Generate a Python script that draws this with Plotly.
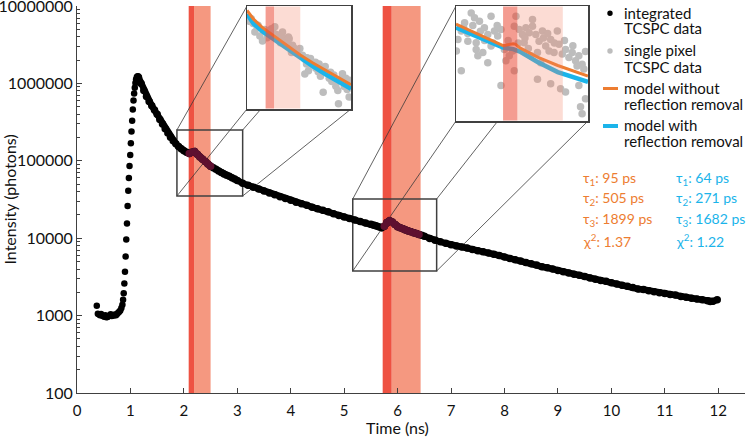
import math
import plotly.graph_objects as go

# ---------------- data: integrated TCSPC histogram ----------------
t_rise = [0.37, 0.39, 0.41, 0.43, 0.45, 0.47, 0.49, 0.51, 0.53, 0.55, 0.57, 0.59, 0.61,
          0.63, 0.65, 0.67, 0.69, 0.71, 0.73, 0.75, 0.77, 0.79, 0.81, 0.83, 0.85,
          0.862, 0.874, 0.886, 0.898, 0.91, 0.922, 0.935, 0.947, 0.959, 0.971, 0.983,
          0.996, 1.008, 1.02, 1.032, 1.044, 1.057, 1.069, 1.081, 1.093, 1.105, 1.118,
          1.13, 1.14]
i_rise = [1340, 1060, 1040, 1010, 1050, 1000, 990, 970, 1010, 950, 960, 980, 1000,
          1040, 990, 1010, 1000, 1030, 1010, 1050, 1090, 1120, 1160, 1250, 1380,
          1600, 1950, 2600, 3700, 5800, 9600, 15500, 26000, 41000, 60000, 86000,
          119000, 169000, 240000, 330000, 460000, 600000, 740000, 880000, 1010000,
          1120000, 1200000, 1230000, 1235000]

t_decay = [1.15, 1.20, 1.25, 1.30, 1.35, 1.40, 1.45, 1.50, 1.55, 1.60, 1.65, 1.70, 1.75,
           1.80, 1.85, 1.90, 1.95, 2.00, 2.05, 2.10, 2.15, 2.20, 2.25, 2.30, 2.35, 2.40,
           2.45, 2.50, 2.55, 2.60, 2.65, 2.70, 2.75, 2.80, 2.85, 2.90, 2.95, 3.00,
           3.1, 3.2, 3.3, 3.4, 3.5, 3.6, 3.7, 3.8, 3.9, 4.0, 4.1, 4.2, 4.3, 4.4, 4.5,
           4.6, 4.7, 4.8, 4.9, 5.0, 5.1, 5.2, 5.3, 5.4, 5.5,
           5.55, 5.60, 5.65, 5.70, 5.75, 5.80, 5.85, 5.90, 5.95, 6.00, 6.05, 6.10,
           6.15, 6.20, 6.25, 6.30, 6.35, 6.40, 6.45, 6.50,
           6.6, 6.7, 6.8, 6.9, 7.0, 7.1, 7.2, 7.3, 7.4, 7.5, 7.6, 7.7, 7.8, 7.9, 8.0,
           8.1, 8.2, 8.3, 8.4, 8.5, 8.6, 8.7, 8.8, 8.9, 9.0, 9.1, 9.2, 9.3, 9.4, 9.5,
           9.6, 9.7, 9.8, 9.9, 10.0, 10.1, 10.2, 10.3, 10.4, 10.5, 10.6, 10.7, 10.8,
           10.9, 11.0, 11.1, 11.2, 11.3, 11.4, 11.5, 11.6, 11.7, 11.8, 11.85, 11.9,
           11.98]
i_decay = [1202000, 1000000, 812800, 676100, 582100, 512900, 451900, 398100, 342800,
           298500, 260000, 229100, 201800, 182000, 166000, 153100, 142900, 134900,
           128800, 124500, 128800, 131800, 121600, 112200, 104700, 97700, 91200, 85100,
           81300, 77600, 74100, 70800, 67600, 65300, 63100, 60300, 58200, 55600,
           51300, 48400, 45700, 43200, 40700, 38500, 36300, 34300, 32700, 30900, 29200,
           27900, 26600, 25100, 24000, 22900, 21900, 20700, 19700, 18800, 18000, 17200,
           16400, 15700, 15100,
           14800, 14500, 14100, 13600, 14300, 15900, 16800, 16200, 15000, 14100, 13600,
           13200, 12800, 12400, 12100, 11800, 11500, 11200, 10900, 10600,
           9900, 9400, 9000, 8600, 8250, 7950, 7700, 7480, 7150, 6900, 6660, 6430, 6200,
           5980, 5700, 5480, 5260, 5060, 4860, 4670, 4490, 4280, 4150, 3990, 3840,
           3700, 3560, 3430, 3310, 3190, 3070, 2960, 2850, 2780, 2650, 2560, 2470, 2390,
           2310, 2210, 2170, 2100, 2040, 1980, 1930, 1870, 1840, 1770, 1720, 1680, 1640,
           1600, 1550, 1520, 1530, 1600]

# reflection bands (ns)
band_dark = [(2.09, 2.19), (5.72, 5.89)]
band_light = [(2.19, 2.50), (5.89, 6.43)]

# zoom regions on the main plot (ns, photons)
zoom_x = [(1.87, 3.10), (5.16, 6.73)]
zoom_y = [(35100, 250000), (3770, 32100)]

# ---------------- inset 1: single pixel data + models ----------------
in1_t = [1.903, 1.943, 1.990, 2.022, 2.069, 2.108, 2.160, 2.199, 2.219, 2.258, 2.290,
         2.329, 2.369, 2.408, 2.436, 2.463, 2.495, 2.526, 2.554, 2.574, 2.597, 2.621,
         2.645, 2.684, 2.712, 2.739, 2.771, 2.795, 2.818, 2.842, 2.873, 2.897, 2.921,
         2.944, 2.952, 2.976, 2.999, 3.019, 3.039, 3.055, 3.070, 3.078, 2.554, 2.396,
         2.053, 1.963, 2.266, 2.858, 2.723,
         2.08, 2.13, 2.18, 2.24, 2.31, 2.35, 2.42, 2.47, 2.58, 2.62, 2.68, 2.75, 2.88,
         2.93, 3.02, 3.08, 1.92, 2.00, 2.36, 2.28]
in1_v = [142, 135, 123, 102, 114, 98.5, 120, 126, 106, 101, 112, 89.5, 96.3, 83.1,
         76.1, 69.6, 77.2, 66.6, 60.9, 54.6, 47.1, 61.8, 53.4, 49.6, 46.0, 41.5, 29.1,
         51.8, 44.7, 39.7, 36.9, 42.8, 33.3, 30.2, 22.5, 39.1, 44.1, 35.8, 39.7, 30.9,
         34.3, 26.1, 43.7, 70.6, 91.5, 112, 88.1, 45.4, 54.6,
         118, 105, 110, 99, 95, 87, 79, 73, 63, 56, 57, 50, 41, 37, 33, 38, 150, 130,
         100, 104]
in1_mt = [1.87, 1.95, 2.05, 2.15, 2.25, 2.35, 2.50, 2.65, 2.80, 2.95, 3.10]
in1_orange = [181, 148, 124, 108, 93.2, 82.5, 66.8, 56.0, 47.4, 40.2, 34.4]
in1_blue = [167, 134, 114, 99.6, 88.1, 78.0, 63.2, 51.9, 43.5, 36.7, 31.5]

# ---------------- inset 2 ----------------
in2_t = [5.341, 5.380, 5.439, 5.262, 5.223, 5.183, 5.164, 5.301, 5.400, 5.498, 5.538,
         5.577, 5.617, 5.656, 5.695, 5.479, 5.420, 5.538, 5.223, 5.400, 5.577, 5.735,
         5.754, 5.794, 5.833, 5.853, 5.695, 5.873, 5.853, 5.912, 5.951, 5.991, 6.030,
         6.070, 6.109, 6.148, 6.188, 6.227, 6.286, 6.267, 6.326, 6.365, 6.385, 6.424,
         6.463, 6.503, 6.542, 6.582, 6.621, 6.660, 6.680, 6.129, 6.286, 6.404, 6.463,
         6.621, 6.641, 6.660, 6.700, 6.070, 5.971, 6.129, 6.168, 6.050,
         5.25, 5.30, 5.36, 5.45, 5.50, 5.60, 5.65, 5.78, 5.90, 5.98, 6.02, 6.20, 6.25,
         6.33, 6.45, 6.55, 6.60, 6.70]
in2_v = [34.6, 31.4, 29.4, 28.4, 24.1, 20.4, 16.2, 19.7, 19.1, 25.7, 22.5, 32.4, 24.1,
         21.8, 24.9, 15.7, 14.7, 12.8, 10.9, 16.7, 17.9, 16.7, 13.3, 14.7, 16.2, 10.9,
         8.1, 32.4, 26.6, 24.9, 22.5, 25.7, 23.3, 26.6, 22.5, 19.7, 24.1, 17.9, 20.4,
         16.2, 15.7, 24.1, 18.5, 15.2, 16.7, 14.2, 15.7, 13.3, 14.7, 12.4, 11.3, 9.2,
         8.4, 7.6, 7.1, 8.1, 5.3, 4.6, 6.2, 30.4, 19.1, 15.7, 12.8, 14.7,
         26, 23, 27, 24, 20, 19, 27, 20, 19, 21, 17, 21, 23, 19, 20, 18, 12, 16]
in2_ot = [5.16, 5.435, 5.72, 5.79, 5.84, 5.87, 5.92, 6.13, 6.37, 6.73]
in2_orange = [27.7, 22.4, 18.0, 18.4, 18.7, 18.5, 17.2, 14.3, 12.1, 9.8]
in2_bt = [5.16, 5.435, 5.72, 5.84, 5.92, 6.13, 6.37, 6.73]
in2_blue = [25.9, 21.1, 17.3, 16.8, 16.0, 13.0, 10.6, 8.7]

fit_without = ["τ<sub>1</sub>: 95 ps", "τ<sub>2</sub>: 505 ps", "τ<sub>3</sub>: 1899 ps", "χ<sup>2</sup>: 1.37"]
fit_with = ["τ<sub>1</sub>: 64 ps", "τ<sub>2</sub>: 271 ps", "τ<sub>3</sub>: 1682 ps", "χ<sup>2</sup>: 1.22"]

legend_labels = [["integrated", "TCSPC data"], ["single pixel", "TCSPC data"],
                 ["model without", "reflection removal"], ["model with", "reflection removal"]]

x_ticks = list(range(0, 13))
y_ticks = [100, 1000, 10000, 100000, 1000000, 10000000]

# ---------------- styling ----------------
FONT = "Lato, 'Open Sans', sans-serif"
ORANGE = "#ED7D31"
BLUE = "#1BB4EA"
GRAY = "#BDBDBD"
MAROON = "#5E1030"
DARK_BAND = "rgb(238,82,66)"
LIGHT_BAND = "rgb(245,152,128)"
DARK_BAND_IN = "rgba(235,75,55,0.55)"
LIGHT_BAND_IN = "rgba(244,130,100,0.28)"
AX = "#404040"

W, H = 750, 440
PL, PR, PT, PB = 77, 745, 6, 393
XMAX = 12.5


def px_x(px):
    return (px - PL) / (PR - PL)


def px_y(py):
    return (PB - py) / (PB - PT)


inset_dom = [
    ((px_x(247), px_x(351)), (px_y(109), 1.0)),
    ((px_x(456), px_x(588)), (px_y(121), 1.0)),
]

fig = go.Figure()

# main black points
fig.add_trace(go.Scatter(x=t_rise, y=i_rise, mode="markers",
                         marker=dict(color="black", size=6.5), showlegend=False,
                         hoverinfo="skip"))
fig.add_trace(go.Scatter(x=t_decay, y=i_decay, mode="lines+markers",
                         line=dict(color="black", width=6.5),
                         marker=dict(color="black", size=7.5), showlegend=False,
                         hoverinfo="skip"))
# points lying inside the reflection bands are highlighted
for (a, _), (_, b) in zip(band_dark, band_light):
    sx = [t for t in t_decay if a <= t <= b]
    sy = [v for t, v in zip(t_decay, i_decay) if a <= t <= b]
    fig.add_trace(go.Scatter(x=sx, y=sy, mode="lines+markers",
                             line=dict(color=MAROON, width=6.5),
                             marker=dict(color=MAROON, size=7.5), showlegend=False,
                             hoverinfo="skip"))

# insets
insets = [
    (in1_t, in1_v, in1_mt, in1_orange, in1_mt, in1_blue),
    (in2_t, in2_v, in2_ot, in2_orange, in2_bt, in2_blue),
]
for k, (gt, gv, ot, ov, bt, bv) in enumerate(insets, start=2):
    xa, ya = f"x{k}", f"y{k}"
    fig.add_trace(go.Scatter(x=gt, y=gv, mode="markers", xaxis=xa, yaxis=ya,
                             marker=dict(color=GRAY, size=7.5), showlegend=False,
                             hoverinfo="skip"))
    fig.add_trace(go.Scatter(x=bt, y=bv, mode="lines", xaxis=xa, yaxis=ya,
                             line=dict(color=BLUE, width=4.5), showlegend=False,
                             hoverinfo="skip"))
    fig.add_trace(go.Scatter(x=ot, y=ov, mode="lines", xaxis=xa, yaxis=ya,
                             line=dict(color=ORANGE, width=3), showlegend=False,
                             hoverinfo="skip"))

shapes = []
# main bands
for (a, b) in band_dark:
    shapes.append(dict(type="rect", xref="x", yref="paper", x0=a, x1=b, y0=0, y1=1,
                       fillcolor=DARK_BAND, line=dict(width=0), layer="below"))
for (a, b) in band_light:
    shapes.append(dict(type="rect", xref="x", yref="paper", x0=a, x1=b, y0=0, y1=1,
                       fillcolor=LIGHT_BAND, line=dict(width=0), layer="below"))

# connectors
for (zx, zy, dom) in zip(zoom_x, zoom_y, inset_dom):
    bx0, bx1 = zx[0] / XMAX, zx[1] / XMAX
    by0 = (math.log10(zy[0]) - 2) / 5
    by1 = (math.log10(zy[1]) - 2) / 5
    (ix0, ix1), (iy0, iy1) = dom
    for (ax_, ay_, cx_, cy_) in [(bx0, by1, ix0, iy1), (bx1, by1, ix1, iy1),
                                 (bx0, by0, ix0, iy0), (bx1, by0, ix1, iy0)]:
        shapes.append(dict(type="line", xref="paper", yref="paper", x0=ax_, y0=ay_,
                           x1=cx_, y1=cy_, line=dict(color="#3a3a3a", width=0.8),
                           layer="below"))
    shapes.append(dict(type="rect", xref="x", yref="y", x0=zx[0], x1=zx[1],
                       y0=zy[0], y1=zy[1], line=dict(color=AX, width=1.5),
                       fillcolor="rgba(0,0,0,0)", layer="below"))

# bands inside insets
for k in (2, 3):
    for (a, b) in band_dark:
        shapes.append(dict(type="rect", xref=f"x{k}", yref=f"y{k} domain", x0=a, x1=b,
                           y0=0.004, y1=0.996, fillcolor=DARK_BAND_IN,
                           line=dict(width=0), layer="above"))
    for (a, b) in band_light:
        shapes.append(dict(type="rect", xref=f"x{k}", yref=f"y{k} domain", x0=a, x1=b,
                           y0=0.004, y1=0.996, fillcolor=LIGHT_BAND_IN,
                           line=dict(width=0), layer="above"))

# legend symbols
leg_y = [13.3, 51, 88.5, 126]
for yy, col in zip(leg_y[:2], ["black", GRAY]):
    shapes.append(dict(type="circle", xref="paper", yref="paper", xsizemode="pixel",
                       ysizemode="pixel", xanchor=px_x(610), yanchor=px_y(yy),
                       x0=-2.7, x1=2.7, y0=-2.7, y1=2.7, fillcolor=col,
                       line=dict(width=0)))
for yy, col, wd in zip(leg_y[2:], [ORANGE, BLUE], [3, 4]):
    shapes.append(dict(type="line", xref="paper", yref="paper", x0=px_x(603),
                       x1=px_x(618), y0=px_y(yy), y1=px_y(yy),
                       line=dict(color=col, width=wd)))

annotations = []
leg_text_y = [(13.3, 28.3), (50.5, 66.5), (88.3, 103.5), (125.5, 141)]
for labels, ys in zip(legend_labels, leg_text_y):
    for lab, yy in zip(labels, ys):
        annotations.append(dict(text=lab, xref="paper", yref="paper", x=px_x(622),
                                y=px_y(yy), xanchor="left", yanchor="middle",
                                showarrow=False,
                                font=dict(family=FONT, size=15, color="#111")))
rows_y = [178.5, 199, 219.5, 240]
for txt, yy in zip(fit_without, rows_y):
    annotations.append(dict(text=txt, xref="paper", yref="paper", x=px_x(581),
                            y=px_y(yy), xanchor="left", yanchor="middle",
                            showarrow=False, font=dict(family=FONT, size=14, color=ORANGE)))
for txt, yy in zip(fit_with, rows_y):
    annotations.append(dict(text=txt, xref="paper", yref="paper", x=px_x(674),
                            y=px_y(yy), xanchor="left", yanchor="middle",
                            showarrow=False, font=dict(family=FONT, size=14, color=BLUE)))
annotations.append(dict(text="Intensity (photons)", xref="paper", yref="paper",
                        x=px_x(9), y=0.5, textangle=-90, xanchor="center",
                        yanchor="middle", showarrow=False,
                        font=dict(family=FONT, size=16, color="#111")))
annotations.append(dict(text="Time (ns)", xref="paper", yref="paper", x=px_x(397),
                        y=px_y(427), xanchor="center", yanchor="middle",
                        showarrow=False, font=dict(family=FONT, size=16, color="#111")))

inset_axis = dict(showticklabels=False, ticks="", showgrid=False, zeroline=False,
                  showline=True, mirror=True, linecolor=AX, linewidth=1.5,
                  automargin=False)

fig.update_layout(
    width=W, height=H,
    margin=dict(l=PL, r=W - PR, t=PT, b=H - PB, autoexpand=False),
    paper_bgcolor="white", plot_bgcolor="white",
    font=dict(family=FONT, color="#111"),
    showlegend=False,
    shapes=shapes,
    annotations=annotations,
    xaxis=dict(range=[0, XMAX], tickvals=x_ticks, ticktext=[str(v) for v in x_ticks],
               ticks="inside", ticklen=5, tickcolor=AX, showline=True, linecolor=AX,
               linewidth=1, showgrid=False, zeroline=False, automargin=False,
               tickfont=dict(family=FONT, size=15, color="#111"),
               ticklabelstandoff=4, ticklabeloverflow="allow"),
    yaxis=dict(type="log", range=[2, 7.0002], tickvals=y_ticks,
               ticktext=[str(v) for v in y_ticks], ticks="inside", ticklen=5,
               tickcolor=AX, showline=True, linecolor=AX, linewidth=1, showgrid=False,
               zeroline=False, automargin=False, ticklabeloverflow="allow",
               tickfont=dict(family=FONT, size=16, color="#111"),
               minor=dict(ticks="inside", ticklen=3, tickcolor=AX, dtick="D1",
                          showgrid=False)),
    xaxis2=dict(domain=list(inset_dom[0][0]), anchor="y2", range=list(zoom_x[0]),
                **inset_axis),
    yaxis2=dict(domain=list(inset_dom[0][1]), anchor="x2", type="log",
                range=[math.log10(20), math.log10(200)], **inset_axis),
    xaxis3=dict(domain=list(inset_dom[1][0]), anchor="y3", range=list(zoom_x[1]),
                **inset_axis),
    yaxis3=dict(domain=list(inset_dom[1][1]), anchor="x3", type="log",
                range=[0.6, 1.6], **inset_axis),
)

fig.write_html("out.html", config={"displayModeBar": False, "staticPlot": True},
               post_script="document.body.style.margin='0';document.body.style.padding='0';")
